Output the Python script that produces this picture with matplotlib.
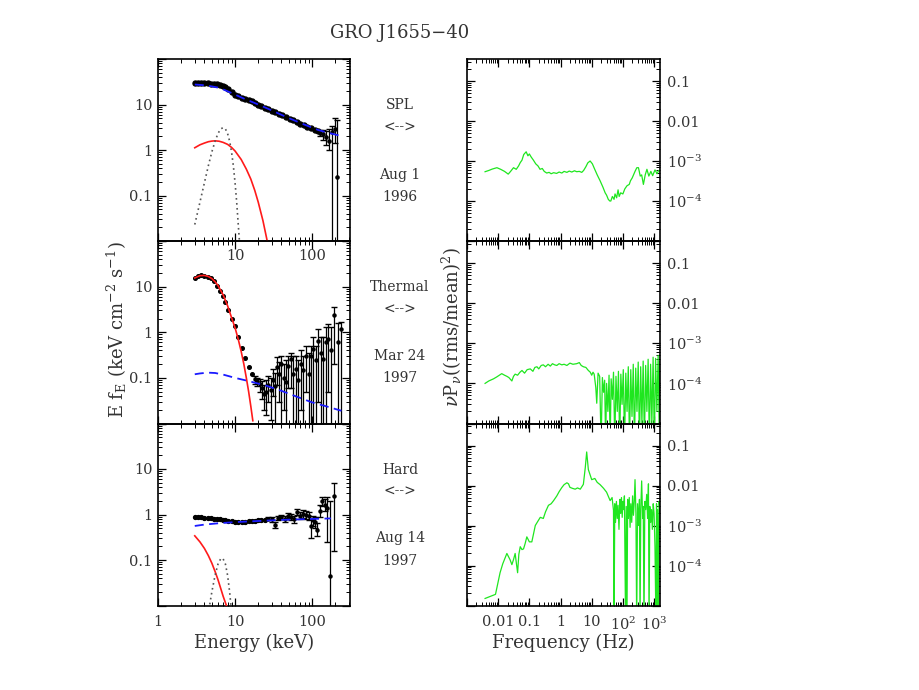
import matplotlib
matplotlib.use('Agg')
import matplotlib.pyplot as plt
from matplotlib.ticker import FixedLocator, FixedFormatter, LogLocator, NullFormatter

# ------------------------------------------------------------------ data
# --- SPL state (Aug 1 1996) energy spectrum
spl_E = [3.0, 3.3, 3.6, 4.0, 4.4, 4.8, 5.3, 5.8, 6.3, 6.9, 7.5, 8.2, 9.0, 10.0, 11.0,
         12.2, 13.5, 15.0, 16.5, 18.0, 20.0, 22.0, 24.5, 27.0, 30.0, 33.0, 37.0, 41.0,
         46.0, 51.0, 57.0, 63.0, 70.0, 78.0, 87.0, 97.0, 108.0, 118.0]
spl_F = [29.6, 29.8, 29.8, 29.6, 29.3, 28.9, 28.3, 27.6, 26.9, 25.3, 23.8, 21.5, 18.6,
         16.3, 15.0, 14.0, 13.2, 12.6, 11.75, 10.96, 10.0, 9.27, 8.53, 7.93, 7.32, 6.8,
         6.22, 5.75, 5.27, 4.86, 4.46, 4.13, 3.81, 3.5, 3.24, 2.98, 2.75, 2.57]
spl_hiE = [128, 140, 152, 165, 183, 200, 210]
spl_hiF = [2.4, 2.2, 1.9, 1.6, 2.5, 2.9, 0.25]
spl_hiLo = [2.0, 1.7, 1.3, 1.0, 0.005, 1.4, 0.005]
spl_hiHi = [2.8, 2.7, 2.6, 2.9, 3.3, 5.0, 4.6]
spl_pl_E = [3, 4, 5, 6, 7, 8, 10, 13, 20, 30, 50, 80, 120, 160, 220]
spl_pl_F = [27.5, 26.5, 25.0, 23.5, 21.5, 19.5, 16.5, 13.5, 10.0, 7.4, 5.0, 3.6, 2.75, 2.4, 2.1]
spl_bb_E = [3, 3.5, 4, 4.5, 5, 5.5, 6.2, 7, 8, 9, 10, 12, 14, 16, 18, 20, 23, 26, 28]
spl_bb_F = [1.12, 1.3, 1.42, 1.52, 1.57, 1.59, 1.56, 1.47, 1.33, 1.14, 0.95, 0.62, 0.38,
            0.23, 0.13, 0.071, 0.028, 0.0104, 0.005]
spl_ln_E = [3.0, 3.5, 4.0, 4.5, 5.0, 5.5, 6.0, 6.5, 7.0, 7.5, 8.0, 8.5, 9.0, 9.5, 10.0,
            10.5, 11.0, 11.5]
spl_ln_F = [0.023, 0.071, 0.19, 0.45, 0.91, 1.56, 2.3, 2.9, 3.1, 2.9, 2.3, 1.56, 0.91,
            0.45, 0.19, 0.071, 0.023, 0.008]

# --- Thermal state (Mar 24 1997) energy spectrum
th_E = [3.0, 3.3, 3.6, 4.0, 4.4, 4.8, 5.3, 5.8, 6.3, 6.9, 7.5, 8.2, 9.0, 10.0, 11.0,
        12.2, 13.5, 15.0, 16.5]
th_F = [15.5, 17.0, 17.6, 17.4, 16.6, 15.3, 13.0, 10.4, 8.2, 6.1, 4.5, 3.1, 2.0, 1.35,
        0.8, 0.45, 0.27, 0.17, 0.12]
th_hiE = [18, 19.5, 21, 22.5, 24, 25.5, 27, 29, 31, 33, 35, 37.5, 40, 43, 46, 49, 53,
          57, 61, 66, 71, 77, 83, 90, 97, 104, 112, 120, 130, 140, 150, 162, 178, 194,
          215, 240]
th_hiF = [0.095, 0.085, 0.075, 0.06, 0.045, 0.05, 0.07, 0.055, 0.09, 0.065, 0.17, 0.12,
          0.2, 0.1, 0.08, 0.18, 0.26, 0.12, 0.16, 0.09, 0.2, 0.15, 0.3, 0.12, 0.3, 0.42,
          0.25, 0.65, 0.35, 0.26, 0.6, 0.7, 0.4, 2.4, 0.6, 1.2]
th_hiLo = [0.075, 0.065, 0.05, 0.035, 0.02, 0.015, 0.03, 0.012, 0.04, 0.008, 0.07, 0.03,
           0.008, 0.02, 0.008, 0.06, 0.06, 0.008, 0.008, 0.008, 0.02, 0.008, 0.05, 0.008,
           0.008, 0.01, 0.008, 0.03, 0.008, 0.008, 0.008, 0.05, 0.008, 0.2, 0.008, 0.008]
th_hiHi = [0.11, 0.1, 0.095, 0.085, 0.07, 0.09, 0.11, 0.1, 0.16, 0.13, 0.28, 0.22, 0.3,
           0.2, 0.25, 0.3, 0.35, 0.3, 0.3, 0.25, 0.4, 0.3, 0.5, 0.35, 0.5, 0.8, 0.5, 1.2,
           0.8, 0.8, 1.3, 1.5, 1.3, 3.6, 1.6, 1.7]
th_pl_E = [3, 3.5, 4, 4.5, 5.5, 7, 10, 15, 25, 40, 60, 100, 150, 240]
th_pl_F = [0.12, 0.125, 0.128, 0.13, 0.128, 0.118, 0.1, 0.085, 0.068, 0.052, 0.04,
           0.029, 0.024, 0.019]
th_bb_E = [3.0, 3.5, 4.0, 4.5, 5.0, 5.5, 6.0, 7.0, 8.0, 9.0, 10.0, 11.0, 12.0, 13.0,
           14.0, 15.0, 16.0, 17.0]
th_bb_F = [15.5, 17.4, 17.6, 16.7, 15.0, 12.8, 10.6, 6.6, 3.8, 2.1, 1.25, 0.7, 0.38,
           0.2, 0.1, 0.05, 0.024, 0.0115]

# --- Hard state (Aug 14 1997) energy spectrum
hd_E = [3.0, 3.3, 3.6, 4.0, 4.4, 4.8, 5.3, 5.8, 6.3, 6.9, 7.5, 8.2, 9.0, 10.0, 11.0,
        12.2, 13.5, 15.0, 16.5, 18.0, 20.0, 22.0, 24.5]
hd_F = [0.9, 0.89, 0.87, 0.85, 0.83, 0.82, 0.8, 0.79, 0.78, 0.76, 0.75, 0.73, 0.72,
        0.7, 0.69, 0.69, 0.7, 0.71, 0.72, 0.73, 0.74, 0.76, 0.77]
hd_hiE = [27, 30, 33, 36, 40, 44, 48, 53, 58, 63, 69, 76, 83, 90, 96, 103, 110, 117,
          125, 133, 145, 155, 172, 190]
hd_hiF = [0.8, 0.78, 0.6, 0.85, 0.88, 0.8, 0.95, 0.9, 0.8, 1.15, 0.95, 1.05, 1.0, 0.95,
          0.55, 0.75, 0.7, 0.45, 1.2, 2.0, 1.6, 1.4, 0.045, 2.6]
hd_hiLo = [0.74, 0.7, 0.5, 0.75, 0.78, 0.68, 0.82, 0.76, 0.66, 0.98, 0.78, 0.85, 0.8,
           0.75, 0.3, 0.55, 0.5, 0.33, 0.9, 1.5, 1.2, 0.25, 0.005, 0.16]
hd_hiHi = [0.86, 0.86, 0.7, 0.95, 0.98, 0.92, 1.08, 1.04, 0.94, 1.32, 1.12, 1.25, 1.2,
           1.15, 0.8, 0.95, 0.9, 0.65, 1.6, 2.4, 2.2, 2.4, 2.0, 5.0]
hd_pl_E = [3, 4, 6, 10, 20, 40, 80, 175]
hd_pl_F = [0.56, 0.6, 0.64, 0.68, 0.72, 0.76, 0.79, 0.82]
hd_bb_E = [3.0, 3.5, 4.0, 4.5, 5.0, 5.5, 6.0, 6.5, 7.0, 7.8, 8.5]
hd_bb_F = [0.34, 0.25, 0.18, 0.125, 0.085, 0.056, 0.037, 0.024, 0.016, 0.0095, 0.005]
hd_ln_E = [4.4, 4.7, 5.0, 5.5, 6.0, 6.5, 6.75, 7.0, 7.5, 8.0, 8.5, 8.8, 9.1]
hd_ln_F = [0.005, 0.0107, 0.02, 0.046, 0.081, 0.106, 0.11, 0.106, 0.081, 0.046, 0.02,
           0.0107, 0.005]

# --- power density spectra (nu P_nu)
spl_f = [0.0038, 0.005, 0.0065, 0.0091, 0.012, 0.016, 0.021, 0.025, 0.031, 0.038, 0.045,
         0.051, 0.058, 0.066, 0.079, 0.09, 0.1, 0.115, 0.135, 0.16, 0.19, 0.22, 0.26,
         0.3, 0.36, 0.43, 0.5, 0.6, 0.75, 0.9, 1.1, 1.3, 1.6, 1.9, 2.3, 2.8, 3.3, 4.0,
         4.8, 5.5, 6.5, 7.5, 8.9, 10.5, 12.5, 15, 18.6, 23, 27, 30, 34, 38, 41, 46, 52,
         56, 63, 70, 76, 85, 100, 115, 135, 160, 175, 200, 245, 280, 316, 360, 400, 455,
         520, 590, 680, 790, 900, 1070, 1250, 1400, 1550]
spl_p = [5.4e-4, 5.8e-4, 6.3e-4, 6.8e-4, 6.2e-4, 5.5e-4, 4.7e-4, 5.5e-4, 6.8e-4, 6.2e-4,
         7.5e-4, 9.1e-4, 1.05e-3, 1.45e-3, 1.7e-3, 1.35e-3, 1.5e-3, 1.25e-3, 1.05e-3,
         8.5e-4, 7.5e-4, 6.2e-4, 6.5e-4, 5.5e-4, 5.0e-4, 5.2e-4, 4.8e-4, 5.1e-4, 4.9e-4,
         5.3e-4, 5.0e-4, 5.5e-4, 5.2e-4, 5.6e-4, 5.3e-4, 5.7e-4, 5.4e-4, 5.5e-4, 5.2e-4,
         5.8e-4, 7.2e-4, 9.0e-4, 1.0e-3, 8.5e-4, 6.2e-4, 4.5e-4, 3.2e-4, 2.2e-4, 1.6e-4,
         1.4e-4, 1.1e-4, 1.0e-4, 1.0e-4, 1.3e-4, 1.1e-4, 1.5e-4, 1.2e-4, 1.9e-4, 1.3e-4,
         1.6e-4, 1.5e-4, 2.0e-4, 2.4e-4, 2.6e-4, 3.2e-4, 3.8e-4, 5.5e-4, 6.8e-4, 6.8e-4,
         4.2e-4, 4.5e-4, 2.6e-4, 4.5e-4, 6.2e-4, 4.2e-4, 5.5e-4, 4.3e-4, 6.0e-4, 4.8e-4,
         5.8e-4, 5.6e-4]

th_f = [0.0038, 0.005, 0.0071, 0.009, 0.013, 0.016, 0.019, 0.022, 0.0275, 0.031, 0.035,
        0.042, 0.05, 0.058, 0.07, 0.085, 0.107, 0.13, 0.15, 0.175, 0.2, 0.24, 0.28, 0.33,
        0.4, 0.47, 0.55, 0.65, 0.76, 0.9, 1.1, 1.3, 1.6, 2.0, 2.5, 3.3, 4.0, 4.6, 5.4,
        6.5, 7.8, 9.0, 10, 11, 12, 13.5, 14.5, 16, 18, 20, 22, 24, 26, 28, 30, 33, 36,
        39, 42, 46, 50, 55, 60, 66, 72, 79, 86, 94, 103, 113, 124, 136, 149, 163, 179,
        196, 215, 235, 258, 283, 310, 340, 372, 408, 447, 490, 537, 589, 645, 707, 775,
        850, 932, 1020, 1120, 1230, 1350, 1480, 1550]
th_p = [1.0e-4, 1.15e-4, 1.3e-4, 1.45e-4, 1.75e-4, 1.6e-4, 1.5e-4, 1.4e-4, 1.15e-4,
        1.5e-4, 1.7e-4, 1.6e-4, 1.9e-4, 2.1e-4, 1.8e-4, 2.2e-4, 2.3e-4, 2.0e-4, 2.5e-4,
        2.6e-4, 2.3e-4, 2.8e-4, 2.9e-4, 2.6e-4, 3.0e-4, 2.7e-4, 3.1e-4, 2.9e-4, 2.8e-4,
        3.1e-4, 2.9e-4, 3.0e-4, 2.8e-4, 3.2e-4, 3.0e-4, 3.1e-4, 3.3e-4, 2.8e-4, 2.6e-4,
        2.5e-4, 2.1e-4, 1.9e-4, 1.6e-4, 1.9e-4, 1.7e-4, 8.0e-5, 3.2e-5, 1.8e-4, 1.5e-4,
        3e-6, 1.4e-4, 6e-5, 1.2e-4, 3e-6, 1.0e-4, 2e-5, 1.6e-4, 3e-6, 1.3e-4, 4e-5,
        1.9e-4, 3e-6, 1.5e-4, 2e-5, 2.0e-4, 3e-6, 1.7e-4, 3e-5, 2.2e-4, 3e-6, 1.8e-4,
        2e-5, 2.6e-4, 3e-6, 2.2e-4, 1.5e-5, 3.0e-4, 3e-6, 2.4e-4, 2e-5, 3.4e-4, 3e-6,
        2.6e-4, 1e-5, 3.6e-4, 3e-6, 2.8e-4, 2e-5, 4.0e-4, 3e-6, 3.0e-4, 1e-5, 4.5e-4,
        3e-6, 4.2e-4, 2e-5, 5.0e-4, 3e-6, 3.5e-4]

hd_f = [0.0038, 0.0082, 0.0115, 0.014, 0.019, 0.024, 0.0275, 0.031, 0.035, 0.038, 0.042,
        0.046, 0.051, 0.058, 0.065, 0.073, 0.083, 0.1, 0.12, 0.135, 0.155, 0.19, 0.224,
        0.28, 0.33, 0.41, 0.5, 0.6, 0.76, 0.9, 1.1, 1.3, 1.6, 1.8, 2.0, 2.4, 2.95, 3.5,
        4.3, 5.4, 6.2, 6.9, 7.8, 10, 12.6, 15, 18.6, 24, 30, 39, 45, 50, 52, 55, 58, 62,
        66, 70, 75, 80, 85, 90, 95, 100, 104, 112, 122, 128, 135, 142, 150, 160, 170,
        180, 192, 205, 218, 232, 245, 262, 277, 295, 320, 340, 355, 375, 400, 430, 450,
        475, 505, 540, 580, 620, 660, 690, 730, 780, 830, 880, 940, 1000, 1070, 1150,
        1200, 1250, 1300, 1380, 1450, 1550]
hd_p = [1.5e-5, 1.9e-5, 6.6e-5, 1.1e-4, 2.0e-4, 1.4e-4, 1.05e-4, 1.4e-4, 2.0e-4, 1.2e-4,
        6.6e-5, 1.9e-4, 2.95e-4, 2.5e-4, 2.6e-4, 3.5e-4, 5.2e-4, 3.9e-4, 3.9e-4, 6.0e-4,
        1.0e-3, 1.3e-3, 1.6e-3, 1.5e-3, 2.2e-3, 3.2e-3, 3.5e-3, 4.2e-3, 5.5e-3, 7.0e-3,
        8.9e-3, 1.05e-2, 1.17e-2, 1.1e-2, 9.0e-3, 8.5e-3, 8.1e-3, 8.7e-3, 8.1e-3, 1.07e-2,
        2.75e-2, 6.9e-2, 2.5e-2, 1.4e-2, 1.5e-2, 1.2e-2, 1.05e-2, 8.5e-3, 6.8e-3, 4.2e-3,
        5.0e-3, 2.4e-3, 3e-6, 3.5e-3, 1.2e-3, 4.0e-3, 1.5e-3, 3.2e-3, 8e-4, 4.5e-3,
        2.0e-3, 5.0e-3, 1.6e-3, 4.0e-3, 2.5e-3, 5.5e-3, 3e-6, 3.0e-3, 3e-6, 4.5e-3,
        1.5e-3, 5.0e-3, 9e-4, 3.5e-3, 1.2e-3, 5.5e-3, 1.8e-3, 4.0e-3, 1.4e-2, 2e-3, 3e-6,
        3.5e-3, 1.0e-3, 4.5e-3, 3e-6, 2.5e-3, 1.3e-2, 1.5e-3, 3.0e-3, 3e-6, 4.0e-3,
        2.5e-3, 6.0e-3, 1.5e-3, 1.1e-2, 3e-6, 3.0e-3, 1.2e-3, 2.5e-3, 8e-4, 3.5e-3,
        2.0e-3, 3e-4, 3e-6, 3.5e-3, 3e-6, 2.5e-3, 3e-6, 4.0e-3, 2.0e-3]

state_names = ['SPL', 'Thermal', 'Hard']
state_dates = [('Aug 1', '1996'), ('Mar 24', '1997'), ('Aug 14', '1997')]
title = 'GRO J1655\u221240'

# ------------------------------------------------------------------ style
plt.rcParams['font.family'] = ['DejaVu Serif']
plt.rcParams['mathtext.fontset'] = 'dejavuserif'
TXT = '#333333'
W, H = 920, 690
fig = plt.figure(figsize=(9.2, 6.9), dpi=100)


def ax_at(x0, y0, x1, y1):
    return fig.add_axes([x0 / W, 1 - y1 / H, (x1 - x0) / W, (y1 - y0) / H])


rows = [(59, 241), (241, 423.5), (423.5, 605.5)]
LX = (158, 350)
RX = (467, 660)


def style(ax):
    ax.set_facecolor('none')
    ax.tick_params(which='both', direction='in', top=True, right=True,
                   labelcolor=TXT, labelsize=10.5)
    ax.tick_params(which='major', length=6, width=0.9)
    ax.tick_params(which='minor', length=3.2, width=0.7)
    for s in ax.spines.values():
        s.set_linewidth(1.2)


left_axes = []
right_axes = []
for i, (y0, y1) in enumerate(rows):
    la = ax_at(LX[0], y0, LX[1], y1)
    ra = ax_at(RX[0], y0, RX[1], y1)
    for ax in (la, ra):
        style(ax)
        ax.set_xscale('log')
        ax.set_yscale('log')
    la.set_xlim(1, 310)
    la.set_ylim(0.01, 100)
    la.yaxis.set_major_locator(FixedLocator([0.01, 0.1, 1, 10, 100]))
    la.yaxis.set_major_formatter(FixedFormatter(['', '0.1', '1', '10', '']))
    la.yaxis.set_minor_locator(LogLocator(base=10, subs=range(2, 10), numticks=20))
    la.yaxis.set_minor_formatter(NullFormatter())
    la.xaxis.set_major_locator(FixedLocator([1, 10, 100]))
    la.xaxis.set_minor_locator(LogLocator(base=10, subs=range(2, 10), numticks=20))
    la.xaxis.set_minor_formatter(NullFormatter())
    la.tick_params(axis='y', pad=4)
    if i == 2:
        la.xaxis.set_major_formatter(FixedFormatter(['1', '10', '100']))
        la.tick_params(axis='x', pad=7)
    elif i == 0:
        la.xaxis.set_major_formatter(FixedFormatter(['', '10', '100']))
        la.tick_params(axis='x', pad=6)
    else:
        la.xaxis.set_major_formatter(NullFormatter())

    ra.set_xlim(1e-3, 1550)
    ra.set_ylim(1e-5, 0.355)
    ra.yaxis.set_major_locator(FixedLocator([1e-5, 1e-4, 1e-3, 1e-2, 1e-1]))
    ra.yaxis.set_major_formatter(FixedFormatter(['', r'$10^{-4}$', r'$10^{-3}$',
                                                 '0.01', '0.1']))
    ra.yaxis.set_minor_locator(LogLocator(base=10, subs=range(2, 10), numticks=20))
    ra.yaxis.set_minor_formatter(NullFormatter())
    ra.tick_params(axis='y', labelleft=False, labelright=True, pad=5)
    ra.xaxis.set_major_locator(FixedLocator([1e-3, 1e-2, 1e-1, 1, 10, 100, 1000]))
    ra.xaxis.set_minor_locator(LogLocator(base=10, subs=range(2, 10), numticks=20))
    ra.xaxis.set_minor_formatter(NullFormatter())
    if i == 2:
        ra.xaxis.set_major_formatter(FixedFormatter(['', '0.01', '0.1', '1', '10',
                                                     r'$10^2$', r'$10^3$']))
        ra.tick_params(axis='x', pad=7)
    else:
        ra.xaxis.set_major_formatter(NullFormatter())
    left_axes.append(la)
    right_axes.append(ra)

RED = '#ff1a1a'
BLUE = '#1a1aff'
GREEN = '#1fe61f'
DOT = '#555555'


def errs(F, lo, hi):
    return [[f - l for f, l in zip(F, lo)], [h - f for f, h in zip(F, hi)]]


# ---- SPL spectrum
ax = left_axes[0]
ax.plot(spl_pl_E, spl_pl_F, color=BLUE, ls=(0, (5, 3)), lw=1.3, zorder=3)
ax.plot(spl_E, spl_F, 'o', color='black', ms=3.6, zorder=2)
ax.errorbar(spl_hiE, spl_hiF, yerr=errs(spl_hiF, spl_hiLo, spl_hiHi), fmt='o',
            color='black', ms=2.3, lw=0.9, capsize=2, zorder=2)
ax.plot(spl_bb_E, spl_bb_F, color=RED, lw=1.2, zorder=3)
ax.plot(spl_ln_E, spl_ln_F, color=DOT, ls=(0, (1, 2)), lw=1.2, zorder=3)

# ---- Thermal spectrum
ax = left_axes[1]
ax.plot(th_pl_E, th_pl_F, color=BLUE, ls=(0, (5, 3)), lw=1.3, zorder=3)
ax.plot(th_E, th_F, 'o', color='black', ms=2.6, zorder=2)
ax.errorbar(th_hiE, th_hiF, yerr=errs(th_hiF, th_hiLo, th_hiHi), fmt='o',
            color='black', ms=2.2, lw=0.9, capsize=2, zorder=2)
ax.plot(th_bb_E, th_bb_F, color=RED, lw=1.2, zorder=3)

# ---- Hard spectrum
ax = left_axes[2]
ax.plot(hd_pl_E, hd_pl_F, color=BLUE, ls=(0, (5, 3)), lw=1.3, zorder=3)
ax.plot(hd_E, hd_F, 'o', color='black', ms=2.8, zorder=2)
ax.errorbar(hd_hiE, hd_hiF, yerr=errs(hd_hiF, hd_hiLo, hd_hiHi), fmt='o',
            color='black', ms=2.2, lw=0.9, capsize=2, zorder=2)
ax.plot(hd_bb_E, hd_bb_F, color=RED, lw=1.2, zorder=3)
ax.plot(hd_ln_E, hd_ln_F, color=DOT, ls=(0, (1, 2)), lw=1.2, zorder=3)

# ---- power spectra
for ax, f, p in zip(right_axes, [spl_f, th_f, hd_f], [spl_p, th_p, hd_p]):
    ax.plot(f, p, color=GREEN, lw=0.9)

# ---- texts
fig.text(400 / W, 1 - 33 / H, title, ha='center', va='center', fontsize=13, color=TXT)
ys = [(105, 128, 175, 197), (287, 310, 356, 378), (470, 492, 538, 561)]
for name, (d1, d2), (a, b, c, d) in zip(state_names, state_dates, ys):
    fig.text(400 / W, 1 - a / H, name, ha='center', va='center', fontsize=10, color=TXT)
    fig.text(400 / W, 1 - b / H, '<-->', ha='center', va='center', fontsize=10, color=TXT)
    fig.text(400 / W, 1 - c / H, d1, ha='center', va='center', fontsize=10, color=TXT)
    fig.text(400 / W, 1 - d / H, d2, ha='center', va='center', fontsize=10, color=TXT)

fig.text(254 / W, 1 - 643 / H, 'Energy (keV)', ha='center', va='center', fontsize=13,
         color=TXT)
fig.text(563 / W, 1 - 643 / H, 'Frequency (Hz)', ha='center', va='center', fontsize=13,
         color=TXT)
fig.text(117 / W, 1 - 330 / H, r'E f$_{\rm E}$ (keV cm$^{-2}$ s$^{-1}$)', rotation=90,
         ha='center', va='center', fontsize=13, color=TXT)
fig.text(452 / W, 1 - 327 / H, r'$\nu$P$_\nu$((rms/mean)$^2$)', rotation=90,
         ha='center', va='center', fontsize=13, color=TXT)

fig.savefig('out.png', dpi=100)
